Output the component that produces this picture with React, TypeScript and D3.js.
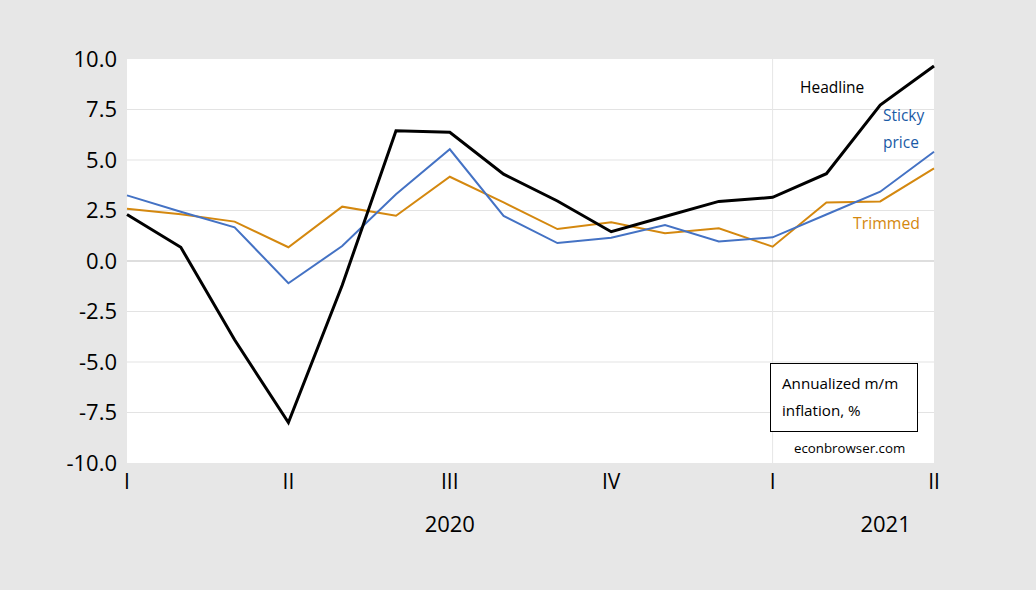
import React from "react";
import * as d3 from "d3";

const months = d3.range(16); // Jan 2020 .. Apr 2021
const headline = [2.3, 0.68, -3.9, -8.0, -1.2, 6.45, 6.37, 4.3, 2.97, 1.45, 2.2, 2.95, 3.15, 4.32, 7.72, 9.65];
const sticky = [3.25, 2.44, 1.67, -1.1, 0.74, 3.3, 5.53, 2.23, 0.89, 1.15, 1.78, 0.97, 1.17, 2.3, 3.43, 5.41];
const trimmed = [2.59, 2.31, 1.95, 0.68, 2.69, 2.24, 4.17, 2.9, 1.58, 1.92, 1.37, 1.62, 0.71, 2.9, 2.95, 4.59];
const yTicks = [10, 7.5, 5, 2.5, 0, -2.5, -5, -7.5, -10];
const quarterIdx = [0, 3, 6, 9, 12, 15];
const quarterLabels = ["I", "II", "III", "IV", "I", "II"];
const years = [{ label: "2020", at: 6 }, { label: "2021", at: 14.1 }];

const W = 1036, H = 590;
const L = 127, R = 934, T = 59, B = 463;
const font = "'Open Sans', 'Noto Sans', sans-serif";

export default function App() {
  const x = d3.scaleLinear().domain([0, months.length - 1]).range([L, R]);
  const y = d3.scaleLinear().domain([-10, 10]).range([B, T]);
  const line = d3.line<number>().x((_, i) => x(i)).y((d) => y(d));
  return (
    <svg width={W} height={H} style={{ position: "absolute", left: 0, top: 0 }}>
      <rect x={0} y={0} width={W} height={H} fill="#e7e7e7" />
      <rect x={L} y={T} width={R - L} height={B - T} fill="#ffffff" />
      {yTicks.filter((t) => t !== 0 && t !== 10 && t !== -10).map((t) => (
        <line key={t} x1={L} x2={R} y1={y(t)} y2={y(t)} stroke="#e3e3e3" strokeWidth={1} />
      ))}
      <line x1={x(12)} x2={x(12)} y1={T} y2={B} stroke="#e6e6e6" strokeWidth={1} />
      <line x1={L} x2={R} y1={y(0)} y2={y(0)} stroke="#bdbdbd" strokeWidth={1} />
      {yTicks.map((t) => (
        <text key={t} x={117} y={y(t)} dy="0.35em" textAnchor="end" fontFamily={font} fontSize={22} fill="#000">
          {t.toFixed(1)}
        </text>
      ))}
      {quarterIdx.map((q, i) => (
        <text key={i} x={x(q)} y={482} dy="0.35em" textAnchor="middle" fontFamily={font} fontSize={21} fill="#000">
          {quarterLabels[i]}
        </text>
      ))}
      {years.map((yr) => (
        <text key={yr.label} x={x(yr.at)} y={524} dy="0.35em" textAnchor="middle" fontFamily={font} fontSize={22} fill="#000">
          {yr.label}
        </text>
      ))}
      <path d={line(trimmed) || ""} fill="none" stroke="#d4880f" strokeWidth={2} strokeLinejoin="miter" />
      <path d={line(sticky) || ""} fill="none" stroke="#4472c4" strokeWidth={2} strokeLinejoin="miter" />
      <path d={line(headline) || ""} fill="none" stroke="#000000" strokeWidth={3} strokeLinejoin="miter" />
      <text x={800} y={93} fontFamily={font} fontSize={15.5} fill="#000">Headline</text>
      <text x={883} y={121} fontFamily={font} fontSize={15.5} fill="#1a5aa6">Sticky</text>
      <text x={883} y={148} fontFamily={font} fontSize={15.5} fill="#1a5aa6">price</text>
      <text x={853} y={229} fontFamily={font} fontSize={15.8} fill="#d4880f">Trimmed</text>
      <rect x={770.5} y={363.5} width={147} height={68} fill="#ffffff" stroke="#000" strokeWidth={1} />
      <text x={782} y={389} fontFamily={font} fontSize={15.2} fill="#000">Annualized m/m</text>
      <text x={782} y={416} fontFamily={font} fontSize={15.2} fill="#000">inflation, %</text>
      <text x={794} y={453} fontFamily={font} fontSize={13.3} fill="#000">econbrowser.com</text>
    </svg>
  );
}
